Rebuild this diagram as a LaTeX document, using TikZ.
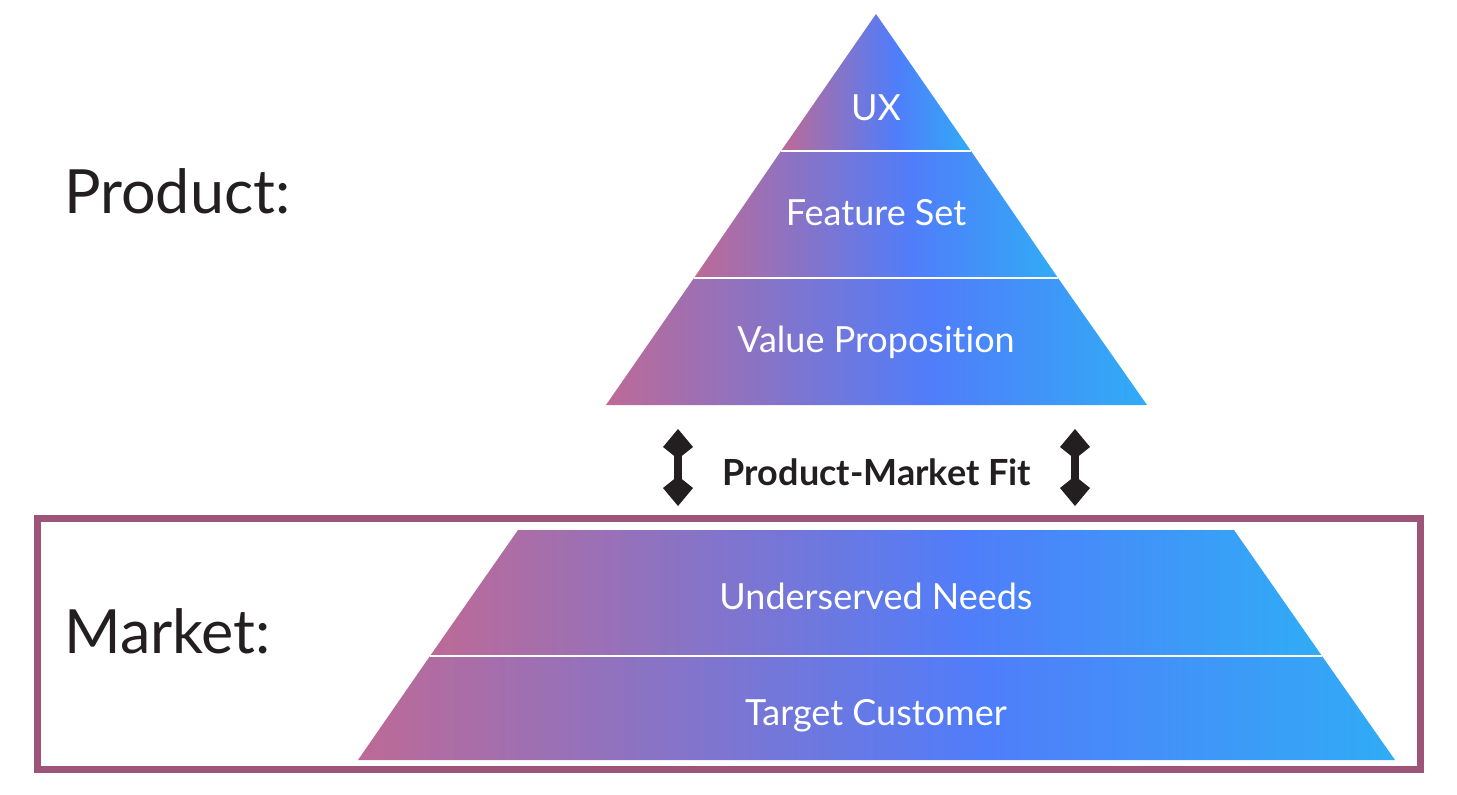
\documentclass[tikz,border=0pt]{standalone}
\usepackage{fontspec}
\setmainfont{Lato}[Ligatures=NoCommon]
\usetikzlibrary{arrows.meta}
\definecolor{pinkend}{RGB}{189,106,150}
\definecolor{bluemid}{RGB}{80,125,250}
\definecolor{cyanend}{RGB}{48,172,246}
\definecolor{framec}{RGB}{157,84,120}
\definecolor{inkc}{RGB}{35,31,32}
\pgfdeclarehorizontalshading{band}{100bp}{color(0bp)=(pinkend); color(25bp)=(pinkend); color(55bp)=(bluemid); color(75bp)=(cyanend); color(100bp)=(cyanend)}

\begin{document}
\begin{tikzpicture}[x=1pt, y=-1pt,
	bstyle/.style={shading=band},
	lstyle/.style={text=white, anchor=base, inner sep=0pt,
	font=\fontsize{36}{40}\selectfont},
	hstyle/.style={text=inkc, anchor=base west, inner sep=0pt,
	font=\fontsize{61}{68}\selectfont},
	astyle/.style={line width=8pt, inkc,
	{Kite[length=30pt,width=30pt,inset=12pt]}-{Kite[length=30pt,width=30pt,inset=12pt]}}
	]
	\useasboundingbox (0,0) rectangle (1457,795);
	% product pyramid
	\shade[bstyle] (876,14) -- (971,151) -- (781,151) -- cycle;
	\shade[bstyle] (781,151) -- (971,151) -- (1058,278) -- (694,278) -- cycle;
	\shade[bstyle] (694,278) -- (1058,278) -- (1147,405) -- (606,405) -- cycle;
	\draw[white, line width=2pt] (781,151) -- (971,151);
	\draw[white, line width=2pt] (694,278) -- (1058,278);
	% market pyramid
	\shade[bstyle] (518,530) -- (1234,530) -- (1322,656) -- (430,656) -- cycle;
	\shade[bstyle] (430,656) -- (1322,656) -- (1395,760) -- (358,760) -- cycle;
	\draw[white, line width=2pt] (430,656) -- (1322,656);
	\draw[framec, line width=7pt] (37.5,518.5) rectangle (1420.5,769.5);
	% labels
	\draw(876,120)node[lstyle] (ux) {UX};
	\draw(876,225)node[lstyle] (feat) {Feature Set};
	\draw(876,352)node[lstyle] (value) {Value Proposition};
	\draw(876,609)node[lstyle] (needs) {Underserved Needs};
	\draw(876,725)node[lstyle] (target) {Target Customer};
	\draw(64,213)node[hstyle] (product) {Product:};
	\draw(64,653)node[hstyle] (market) {Market:};
	\draw(877,485)node[lstyle, text=inkc, font=\fontsize{36}{40}\selectfont\bfseries] (fit) {Product-Market Fit};
	% fit arrows
	\coordinate (la) at (678,429);
	\coordinate (lb) at (678,506);
	\coordinate (ra) at (1075,429);
	\coordinate (rb) at (1075,506);
	\draw[astyle] (la) -- (lb);
	\draw[astyle] (ra) -- (rb);
\end{tikzpicture}
\end{document}
